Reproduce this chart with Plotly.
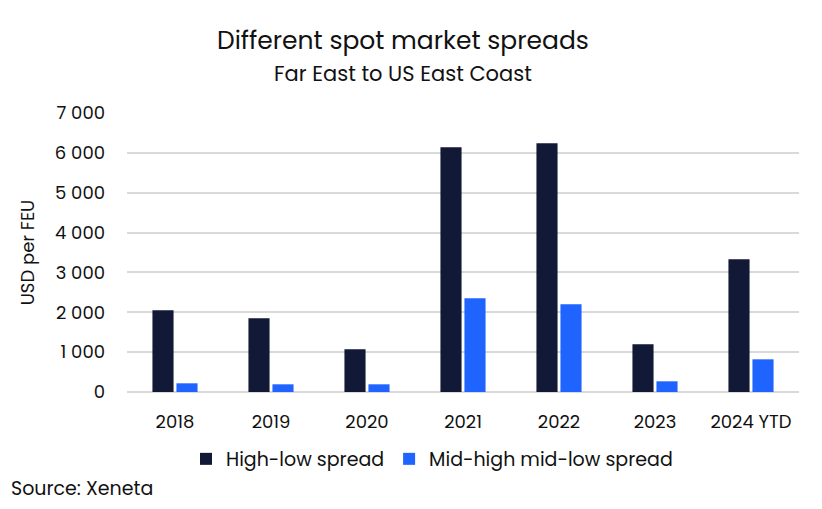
import plotly.graph_objects as go

categories = ["2018", "2019", "2020", "2021", "2022", "2023", "2024 YTD"]
high_low = [2050, 1850, 1070, 6140, 6240, 1200, 3330]
mid_spread = [218, 193, 193, 2350, 2200, 268, 820]
y_ticks = [0, 1000, 2000, 3000, 4000, 5000, 6000, 7000]
y_labels = ["0", "1 000", "2 000", "3 000", "4 000", "5 000", "6 000", "7 000"]

FONT = "Poppins, Open Sans, sans-serif"
INK = "#111111"

# page body adds an 8px offset; figure sized so it fits the window
W, H = 806, 493
ML, MR, MT, MB = 119, 15, 105, 109
PW, PH = W - ML - MR, H - MT - MB
OFF = 8


def px(xv):
    return (xv - OFF - ML) / PW


def py(yv):
    return (H - MB - (yv - OFF)) / PH


fig = go.Figure()
fig.add_trace(go.Bar(x=categories, y=high_low, name="High-low spread",
                     marker=dict(color="#111936", line=dict(width=0))))
fig.add_trace(go.Bar(x=categories, y=mid_spread, name="Mid-high mid-low spread",
                     marker=dict(color="#1F64FF", line=dict(width=0))))

fig.update_layout(
    width=W, height=H,
    margin=dict(l=ML, r=MR, t=MT, b=MB, autoexpand=False),
    paper_bgcolor="white", plot_bgcolor="white",
    font=dict(family=FONT, color=INK, size=18),
    barmode="group", bargap=0.5, bargroupgap=0.12,
    showlegend=True,
    legend=dict(orientation="h", x=px(432), xanchor="center", y=py(459), yanchor="middle",
                font=dict(size=19), itemwidth=30, traceorder="normal"),
)

fig.add_annotation(text="Different spot market spreads", xref="paper", yref="paper",
                   x=px(403), y=py(40), xanchor="center", yanchor="middle",
                   showarrow=False, font=dict(size=25, family=FONT, color=INK))
fig.add_annotation(text="Far East to US East Coast", xref="paper", yref="paper",
                   x=px(403), y=py(74), xanchor="center", yanchor="middle",
                   showarrow=False, font=dict(size=21, family=FONT, color=INK))
fig.add_annotation(text="Source: Xeneta", xref="paper", yref="paper",
                   x=px(9), y=py(488), xanchor="left", yanchor="middle",
                   showarrow=False, font=dict(size=19, family=FONT, color=INK))

fig.update_yaxes(range=[0, 7000], tickvals=y_ticks, ticktext=y_labels,
                 showgrid=True, gridcolor="#d9d9d9", gridwidth=1.5,
                 zeroline=True, zerolinecolor="#d9d9d9", zerolinewidth=1.5,
                 showline=False, ticks="", ticklabelstandoff=21,
                 title=dict(text="USD per FEU", font=dict(size=18), standoff=15),
                 tickfont=dict(size=18))
fig.update_xaxes(showline=False, ticks="", tickfont=dict(size=18), ticklabelstandoff=17)

fig.write_html("out.html")
